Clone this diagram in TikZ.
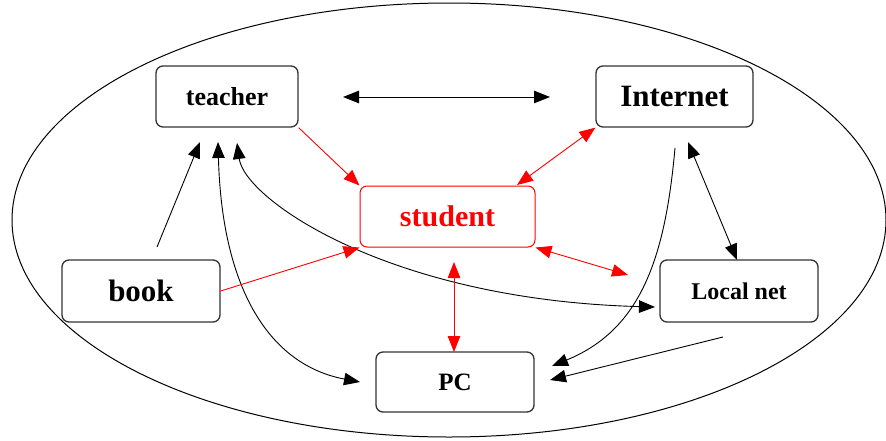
\documentclass[tikz,border=0pt]{standalone}
\usepackage{fontspec}
\setmainfont{Liberation Serif}
\usetikzlibrary{arrows.meta,calc}
\definecolor{boxline}{RGB}{50,50,50}
\tikzset{tip/.tip={Triangle[length=16pt,width=12.5pt]}}
\begin{document}
\begin{tikzpicture}[x=1pt,y=-1pt,
  box/.style={draw=boxline,line width=1.3pt,rounded corners=7pt,inner sep=0pt,font=\bfseries},
  redbox/.style={box,draw=red,text=red,line width=1pt},
  link/.style={line width=0.9pt,black,-tip},
  dlink/.style={link,tip-tip},
  rlink/.style={link,red},
  rdlink/.style={dlink,red}]
\useasboundingbox (0,0) rectangle (886,440);

% surrounding ellipse
\draw[line width=1pt] (449,220) ellipse [x radius=437pt, y radius=217pt];

% boxes
\node[box,minimum width=142pt,minimum height=61pt] (teacher) at (227,96.5)
  {\fontsize{26}{29}\selectfont teacher};
\node[box,minimum width=157pt,minimum height=61pt] (internet) at (674.5,96.5)
  {\fontsize{31}{34}\selectfont Internet};
\node[redbox,minimum width=175pt,minimum height=61pt] (student) at (447.5,216.5)
  {\fontsize{30}{34}\selectfont student};
\node[box,minimum width=158pt,minimum height=62pt] (book) at (141,291)
  {\fontsize{31}{34}\selectfont book};
\node[box,minimum width=158pt,minimum height=62pt] (localnet) at (739,291)
  {\fontsize{24}{27}\selectfont Local net};
\node[box,minimum width=158pt,minimum height=60pt] (pc) at (455,382)
  {\fontsize{25}{28}\selectfont PC};

% free ends of the connectors
\coordinate (ti) at (343,97);
\coordinate (it) at (550,97);
\coordinate (sInt) at (517,185);
\coordinate (lnS) at (628,275);
\coordinate (sPcTop) at (454,262);
\coordinate (sPcBot) at (454,352);
\coordinate (bkTop) at (157,247);
\coordinate (tBk) at (200,142);
\coordinate (tPc) at (218,142);
\coordinate (pcT) at (360,382);
\coordinate (tLn) at (237,143);
\coordinate (lnT) at (655,307);
\coordinate (iPc) at (675,148);
\coordinate (pcI) at (552,366);
\coordinate (iLn) at (688,142);
\coordinate (lnI) at (737,260);
\coordinate (lnPc) at (723,337);
\coordinate (pcLn) at (550,380);

% black connectors
\draw[dlink] (ti) -- (it);
\draw[link] (bkTop) -- (tBk);
\draw[dlink] (tPc) .. controls (222,290) and (270,365) .. (pcT);
\draw[dlink] (tLn) .. controls (245,200) and (390,300) .. (lnT);
\draw[link] (iPc) .. controls (665,260) and (640,330) .. (pcI);
\draw[dlink] (iLn) -- (lnI);
\draw[link] (lnPc) -- (pcLn);

% red connectors around the student
\draw[rlink] (teacher.south east) -- (student.north west);
\draw[rdlink] (internet.south west) -- (sInt);
\draw[rlink] (book.east) -- (student.south west);
\draw[rdlink] (student.south east) -- (lnS);
\draw[rdlink] (sPcTop) -- (sPcBot);
\end{tikzpicture}
\end{document}
